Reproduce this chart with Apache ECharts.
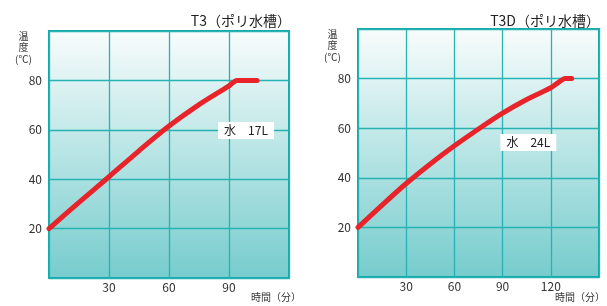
<!DOCTYPE html>
<html lang="ja">
<head>
    <meta charset="UTF-8">
    <title>T3 / T3D</title>
    <style>
        body{ margin: 0; background: #fff; }
    </style>
</head>
<body>
<div id="myChart" style="width: 607px;height: 306px;"></div>
<script src="https://cdn.jsdelivr.net/npm/echarts@6/dist/echarts.min.js"></script>
<script>
    var myChart = echarts.init(document.getElementById('myChart'));

    // T3 (ポリ水槽) 水 17L
    let t3Data = [[0, 20], [15, 30.6], [30, 41], [45, 51.5], [60, 61.5], [75, 70.2], [90, 77.8], [94, 80], [104, 80]];
    // T3D (ポリ水槽) 水 24L
    let t3dData = [[0, 20], [15, 29], [30, 37.7], [45, 45.6], [60, 52.9], [75, 59.7], [90, 66.1], [105, 71.6], [120, 76.3], [125, 78.6], [129, 80], [133, 80]];
    let titles = ['T3（ポリ水槽）', 'T3D（ポリ水槽）'];
    let waterLabels = ['水　17L', '水　24L'];
    let labelPos = [[98.5, 59.7], [106, 54.2]];
    let xMax = [120, 150];

    let font = "'Noto Sans CJK JP', sans-serif";
    let bg = new echarts.graphic.LinearGradient(0, 0, 0, 1, [
        {offset: 0, color: '#f9fcfc'},
        {offset: 1, color: '#76cccd'}
    ]);

    function gridOf(left, top, width, height) {
        return {
            left: left, top: top, width: width, height: height,
            show: true,
            backgroundColor: bg,
            borderColor: '#14a7a7',
            borderWidth: 2
        };
    }

    function xAxisOf(i) {
        return {
            type: 'value', gridIndex: i, min: 0, max: xMax[i], interval: 30,
            axisLine: {show: false}, axisTick: {show: false},
            splitLine: {lineStyle: {color: '#27b3b3', width: 1.3}},
            axisLabel: {
                color: '#333', fontSize: 12, fontFamily: font, margin: 3,
                formatter: function (v) { return (v === 0 || v === xMax[i]) ? '' : v; }
            }
        };
    }

    function yAxisOf(i) {
        return {
            type: 'value', gridIndex: i, min: 0, max: 100, interval: 20,
            axisLine: {show: false}, axisTick: {show: false},
            splitLine: {lineStyle: {color: '#27b3b3', width: 1.3}},
            axisLabel: {
                color: '#333', fontSize: 12, fontFamily: font, margin: 7,
                formatter: function (v) { return (v === 0 || v === 100) ? '' : v; }
            }
        };
    }

    function seriesOf(i, data) {
        return {
            type: 'line', xAxisIndex: i, yAxisIndex: i,
            data: data, smooth: 0.3, symbol: 'none',
            lineStyle: {color: '#e8242a', width: 5, cap: 'round'},
            markPoint: {
                symbol: 'rect', symbolSize: [56, 17],
                itemStyle: {color: '#fff'},
                label: {show: true, color: '#222', fontSize: 12, fontFamily: font, formatter: waterLabels[i]},
                data: [{coord: labelPos[i]}]
            }
        };
    }

    let titleStyle = {fontSize: 14, fontWeight: 'normal', color: '#222', fontFamily: font};
    let nameStyle = {fill: '#333', font: '10px ' + font};

    option = {
        animation: false,
        grid: [gridOf(49, 31, 240, 247), gridOf(358, 29, 241, 248)],
        xAxis: [xAxisOf(0), xAxisOf(1)],
        yAxis: [yAxisOf(0), yAxisOf(1)],
        title: [
            {text: titles[0], right: 311, top: 9, textStyle: titleStyle},
            {text: titles[1], right: 2, top: 9, textStyle: titleStyle}
        ],
        graphic: [
            {type: 'text', left: 15, top: 30, style: {text: '温\n度\n(℃)', fill: '#333', font: '10px ' + font, textAlign: 'center', lineHeight: 11.5}},
            {type: 'text', left: 324, top: 28, style: {text: '温\n度\n(℃)', fill: '#333', font: '10px ' + font, textAlign: 'center', lineHeight: 11.5}},
            {type: 'text', right: 306, top: 292, style: Object.assign({text: '時間（分）'}, nameStyle)},
            {type: 'text', right: 2, top: 292, style: Object.assign({text: '時間（分）'}, nameStyle)}
        ],
        series: [seriesOf(0, t3Data), seriesOf(1, t3dData)]
    };
    myChart.setOption(option);
</script>
</body>
</html>
